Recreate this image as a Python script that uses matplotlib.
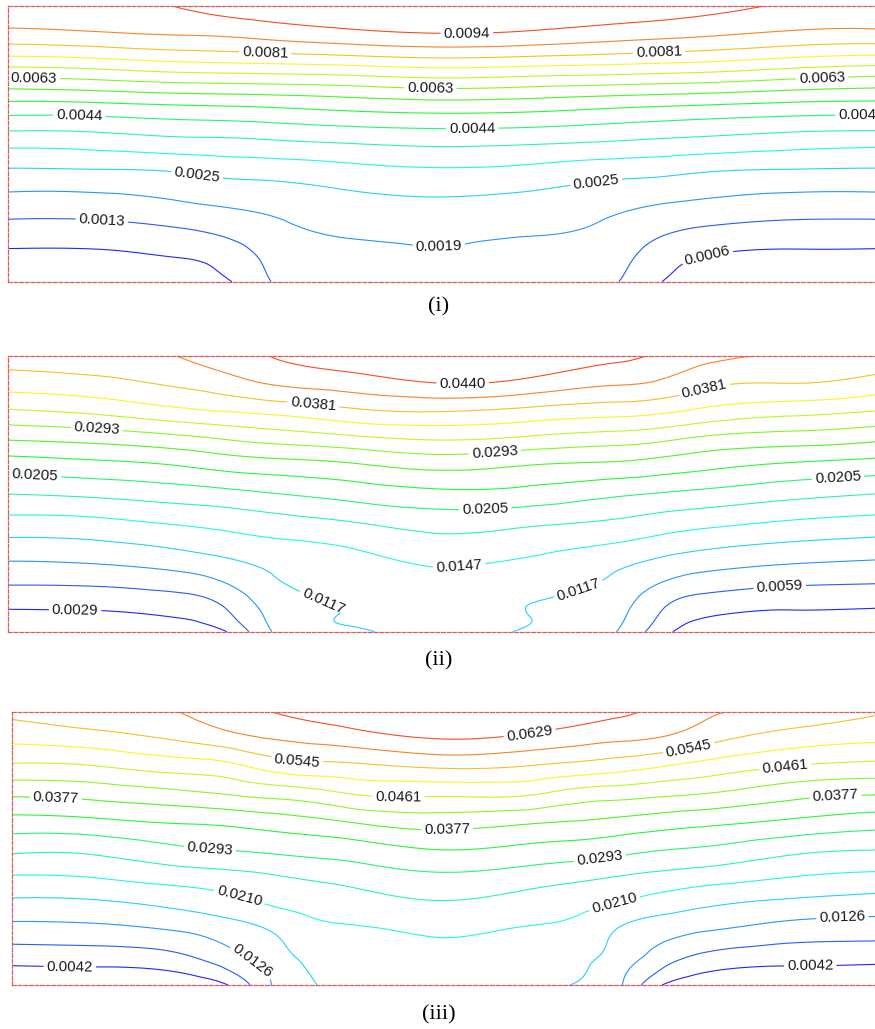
import numpy as np
import matplotlib
matplotlib.use('Agg')
import matplotlib.pyplot as plt
import matplotlib.tri as mtri
from matplotlib.colors import hsv_to_rgb

plt.rcParams['font.family'] = 'Liberation Sans'

# grid nodes as fractions of panel width (x) and height from the bottom (t)
x_nodes_i = [0.0, 0.1, 0.2, 0.25, 0.3, 0.4, 0.5, 0.6, 0.7, 0.75, 0.8, 0.9, 1.0]
x_nodes_ii = [0.0, 0.1, 0.2, 0.25, 0.3, 0.4, 0.5, 0.6, 0.7, 0.75, 0.8, 0.9, 1.0]
x_nodes_iii = [0.0, 0.1, 0.2, 0.25, 0.3, 0.35, 0.4, 0.5, 0.6, 0.65, 0.7, 0.75, 0.8, 0.9, 1.0]
t_nodes = [0.0, 0.1, 0.2, 0.3, 0.4, 0.5, 0.6, 0.7, 0.8, 0.9, 1.0]

# field, in units of the contour interval
# one list per x node, values from bottom (t=0) to top (t=1)
field_i = [
    [0.0, 0.83, 1.74, 2.74, 3.86, 5.25, 6.96, 9.03, 11.57, 13.72, 14.8],
    [0.1, 0.85, 1.76, 2.76, 3.9, 5.35, 7.0, 9.19, 11.75, 13.9, 14.85],
    [0.4, 1.1, 2.06, 3.08, 4.06, 5.62, 7.22, 9.45, 12.09, 14.1, 15.05],
    [0.85, 1.45, 2.36, 3.29, 4.29, 5.67, 7.29, 9.51, 12.18, 14.19, 15.4],
    [1.95, 2.24, 2.77, 3.44, 4.37, 5.78, 7.4, 9.57, 12.27, 14.4, 15.6],
    [2.45, 2.72, 3.25, 3.8, 4.67, 6.0, 7.67, 9.77, 12.48, 14.78, 15.85],
    [2.6, 2.88, 3.38, 3.95, 4.85, 6.15, 7.8, 10.0, 12.7, 15.0, 16.0],
    [2.5, 2.68, 3.2, 3.78, 4.7, 6.05, 7.72, 9.85, 12.55, 14.85, 15.9],
    [2.05, 2.35, 2.78, 3.4, 4.35, 5.85, 7.45, 9.65, 12.35, 14.5, 15.7],
    [1.05, 1.55, 2.31, 3.18, 4.25, 5.72, 7.32, 9.55, 12.22, 14.35, 15.5],
    [0.4, 1.05, 2.0, 3.0, 4.05, 5.6, 7.2, 9.45, 12.1, 14.2, 15.3],
    [0.1, 0.85, 1.76, 2.76, 3.9, 5.35, 7.0, 9.15, 11.7, 13.85, 14.9],
    [0.0, 0.83, 1.74, 2.74, 3.86, 5.2, 6.95, 8.95, 11.45, 13.75, 14.8],
]
field_ii = [
    [0.0, 1.22, 2.36, 3.51, 4.72, 6.02, 7.42, 9.11, 10.9, 12.43, 13.5],
    [0.1, 1.26, 2.43, 3.64, 4.81, 6.21, 7.66, 9.33, 11.22, 12.68, 13.7],
    [0.45, 1.52, 2.78, 4.05, 5.18, 6.52, 8.0, 9.76, 11.8, 13.19, 14.05],
    [0.95, 2.14, 3.24, 4.35, 5.37, 6.71, 8.3, 10.07, 12.04, 13.56, 14.6],
    [2.9, 3.34, 3.92, 4.63, 5.61, 6.95, 8.5, 10.35, 12.26, 14.05, 15.0],
    [3.9, 4.08, 4.58, 5.01, 6.05, 7.41, 8.84, 10.79, 12.84, 14.52, 15.6],
    [4.5, 4.58, 4.85, 5.49, 6.47, 7.77, 9.25, 11.11, 13.05, 15.0, 16.0],
    [3.9, 4.0, 4.5, 5.23, 6.24, 7.64, 8.95, 10.82, 12.73, 14.69, 15.8],
    [3.0, 3.4, 3.9, 4.75, 5.9, 7.16, 8.73, 10.48, 12.41, 14.1, 15.3],
    [1.45, 2.22, 3.24, 4.38, 5.6, 6.95, 8.5, 10.24, 12.2, 13.85, 14.85],
    [0.3, 1.55, 2.8, 4.05, 5.35, 6.75, 8.23, 9.84, 11.8, 13.25, 14.4],
    [0.1, 1.24, 2.43, 3.68, 4.95, 6.32, 7.8, 9.51, 11.35, 13.0, 13.9],
    [0.0, 1.17, 2.3, 3.47, 4.71, 6.0, 7.54, 9.2, 11.0, 12.6, 13.7],
]
field_iii = [
    [0.0, 1.39, 2.61, 3.79, 4.97, 6.27, 7.67, 9.18, 10.82, 12.22, 13.25],
    [0.1, 1.45, 2.7, 3.87, 5.11, 6.33, 7.84, 9.38, 10.98, 12.55, 13.75],
    [0.35, 1.85, 3.08, 4.3, 5.53, 6.92, 8.14, 9.8, 11.45, 13.15, 14.05],
    [1.0, 2.6, 3.49, 4.64, 5.71, 7.08, 8.27, 10.06, 11.71, 13.57, 14.6],
    [3.0, 3.51, 4.04, 5.09, 5.95, 7.25, 8.52, 10.34, 12.38, 14.0, 15.0],
    [3.97, 4.25, 4.7, 5.36, 6.21, 7.42, 8.79, 10.63, 12.68, 14.26, 15.3],
    [4.3, 4.45, 4.88, 5.57, 6.46, 7.62, 9.16, 11.08, 12.81, 14.53, 15.6],
    [4.5, 4.7, 5.15, 5.93, 6.86, 8.07, 9.51, 11.2, 13.15, 15.0, 16.0],
    [4.3, 4.48, 4.9, 5.56, 6.53, 7.79, 9.19, 11.1, 12.95, 14.7, 15.8],
    [3.97, 4.28, 4.7, 5.34, 6.3, 7.63, 9.0, 10.63, 12.7, 14.4, 15.5],
    [3.2, 3.6, 3.95, 4.99, 6.03, 7.39, 8.78, 10.42, 12.41, 14.14, 15.2],
    [1.05, 2.51, 3.38, 4.55, 5.77, 7.1, 8.53, 10.2, 12.03, 13.9, 14.75],
    [0.35, 1.75, 3.05, 4.19, 5.54, 6.92, 8.31, 10.0, 11.63, 13.35, 14.2],
    [0.1, 1.37, 2.56, 3.79, 5.06, 6.34, 7.88, 9.36, 10.98, 12.51, 13.7],
    [0.0, 1.3, 2.43, 3.57, 4.81, 6.08, 7.49, 9.08, 10.7, 12.15, 13.1],
]

levels_i = [0.000625, 0.00125, 0.001875, 0.0025, 0.003125, 0.00375, 0.004375, 0.005,
            0.005625, 0.00625, 0.006875, 0.0075, 0.008125, 0.00875, 0.009375]
levels_ii = [0.002932, 0.005864, 0.008796, 0.011728, 0.01466, 0.017592, 0.020524, 0.023456,
             0.026388, 0.02932, 0.032252, 0.035184, 0.038116, 0.041048, 0.04398]
levels_iii = [0.004191, 0.008382, 0.012573, 0.016764, 0.020955, 0.025146, 0.029337, 0.033528,
              0.037719, 0.04191, 0.046101, 0.050292, 0.054483, 0.058674, 0.062865]

# which levels carry labels (index into the level list)
labelled_i = [0, 1, 2, 3, 6, 9, 12, 14]
labelled_ii = [0, 1, 3, 4, 6, 9, 12, 14]
labelled_iii = [0, 2, 4, 6, 8, 10, 12, 14]

captions = ['(i)', '(ii)', '(iii)']

# label spots (x, t) in panel fractions
label_spots_i = [(0.528, 0.899), (0.296, 0.83), (0.749, 0.83), (0.03, 0.743), (0.486, 0.703),
                 (0.937, 0.739), (0.082, 0.60), (0.534, 0.554), (0.982, 0.60), (0.218, 0.395),
                 (0.677, 0.359), (0.108, 0.228), (0.496, 0.12), (0.804, 0.105)]
label_spots_ii = [(0.523, 0.90), (0.351, 0.821), (0.803, 0.858), (0.102, 0.745), (0.56, 0.647),
                  (0.031, 0.568), (0.549, 0.448), (0.955, 0.568), (0.519, 0.241), (0.365, 0.133),
                  (0.656, 0.158), (0.888, 0.162), (0.077, 0.082)]
label_spots_iii = [(0.599, 0.911), (0.33, 0.823), (0.782, 0.871), (0.447, 0.695), (0.894, 0.801),
                   (0.051, 0.688), (0.503, 0.567), (0.952, 0.688), (0.229, 0.501), (0.68, 0.457),
                   (0.262, 0.311), (0.697, 0.296), (0.279, 0.091), (0.96, 0.245), (0.067, 0.066),
                   (0.923, 0.062)]

# rainbow from blue (lowest) to red-orange (highest)
hues = np.linspace(0.667, 0.03, 15)
line_colors = [hsv_to_rgb((h, 0.85, 0.97)) for h in hues]


def grid_triangles(nx, nt):
    # split each cell along alternating diagonals (union-jack pattern)
    tris = []
    for j in range(nt - 1):
        for i in range(nx - 1):
            a = j * nx + i
            b, c, d = a + 1, a + nx, a + nx + 1
            if (i + j) % 2 == 0:
                tris += [[a, b, d], [a, d, c]]
            else:
                tris += [[a, b, c], [b, d, c]]
    return tris


def draw_panel(ax, x_nodes, field, levels, labelled, spots):
    xx, tt = np.meshgrid(x_nodes, t_nodes)
    z = np.array(field).T * levels[0]
    tri = mtri.Triangulation(xx.ravel(), tt.ravel(),
                             grid_triangles(len(x_nodes), len(t_nodes)))
    tri_f, z_f = mtri.UniformTriRefiner(tri).refine_field(z.ravel(), subdiv=5)

    plain = [i for i in range(len(levels)) if i not in labelled]
    ax.tricontour(tri_f, z_f, levels=[levels[i] for i in plain],
                  colors=[line_colors[i] for i in plain], linewidths=0.8)
    cs = ax.tricontour(tri_f, z_f, levels=[levels[i] for i in labelled],
                       colors=[line_colors[i] for i in labelled], linewidths=0.8)
    lab = ax.clabel(cs, manual=spots, fmt=lambda v: f'{v + 1e-9:.4f}', fontsize=10.8,
                    inline_spacing=3, colors='#1a1a1a')
    for t in lab:
        t.set_clip_on(False)

    ax.set_xlim(0, 1)
    ax.set_ylim(0, 1)
    ax.set_xticks([])
    ax.set_yticks([])
    for s in ax.spines.values():
        s.set_color('#e05a5a')
        s.set_linestyle((0, (3, 1.5)))
        s.set_linewidth(0.9)


fig = plt.figure(figsize=(8.75, 10.29), dpi=100)

boxes = [
    [8 / 875, 1 - 281.7 / 1029, 869 / 875, 276 / 1029],
    [8.3 / 875, 1 - 631.7 / 1029, 868.7 / 875, 276 / 1029],
    [11.7 / 875, 1 - 985 / 1029, 865.3 / 875, 273.3 / 1029],
]
all_x = [x_nodes_i, x_nodes_ii, x_nodes_iii]
fields = [field_i, field_ii, field_iii]
all_levels = [levels_i, levels_ii, levels_iii]
all_labelled = [labelled_i, labelled_ii, labelled_iii]
all_spots = [label_spots_i, label_spots_ii, label_spots_iii]
caption_y = [307, 661, 1015]

for box, xn, field, levels, labelled, spots, cap, cy in zip(boxes, all_x, fields, all_levels,
                                                           all_labelled, all_spots, captions,
                                                           caption_y):
    ax = fig.add_axes(box)
    draw_panel(ax, xn, field, levels, labelled, spots)
    fig.text(439 / 875, 1 - cy / 1029, cap, ha='center', va='center',
             family='Liberation Serif', fontsize=16)

fig.savefig('out.png', dpi=100)
